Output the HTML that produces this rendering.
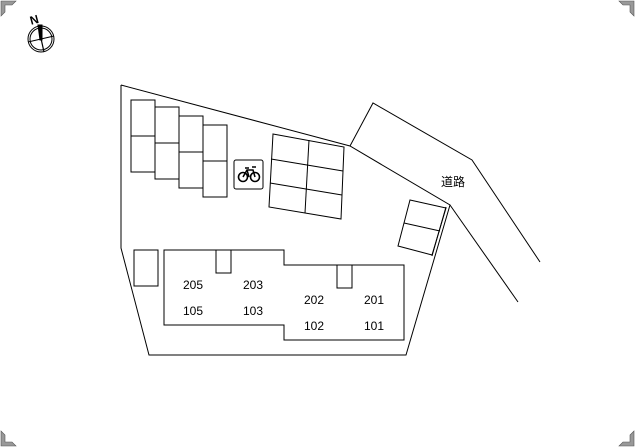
<!DOCTYPE html>
<html><head><meta charset="utf-8"><style>
html,body{margin:0;padding:0;background:#fff;}
svg{display:block;}
text{font-family:"Liberation Sans","Noto Sans CJK JP",sans-serif;font-size:12px;fill:#000;}
</style></head><body>
<svg width="635" height="447" viewBox="0 0 635 447" xmlns="http://www.w3.org/2000/svg">
<g fill="#999" stroke="#555" stroke-width="0.6">
<polygon points="1,1 16,1 12,5 5,5 5,12 1,16"/>
<polygon points="634,1 619,1 623,5 630,5 630,12 634,16"/>
<polygon points="1,446 16,446 12,442 5,442 5,435 1,431"/>
<polygon points="634,446 619,446 623,442 630,442 630,435 634,431"/>
</g>
<g fill="none" stroke="#000" stroke-width="1">
<circle cx="41" cy="39" r="13"/><circle cx="41" cy="39" r="11"/>
<line x1="28" y1="42" x2="54" y2="36"/>
<line x1="38" y1="25" x2="44" y2="52" stroke-width="1.2"/>
<polygon points="38,25 42,25 42,40 40,40" fill="#000"/>
</g>
<text x="30" y="24" font-size="10" font-weight="bold" transform="rotate(-15 34 20)">N</text>
<g fill="none" stroke="#000" stroke-width="1">
<polyline points="121,85 350,146 450,205 406,355 149,355 121,248 121,85"/>
<line x1="446" y1="207" x2="432" y2="256"/>
<polyline points="350,146 373,103 472,160 540,262"/>
<line x1="450" y1="205" x2="518" y2="302"/>
<rect x="131" y="100" width="24" height="36"/><rect x="131" y="136" width="24" height="36"/>
<rect x="155" y="107" width="24" height="36"/><rect x="155" y="143" width="24" height="36"/>
<rect x="179" y="116" width="24" height="36"/><rect x="179" y="152" width="24" height="36"/>
<rect x="203" y="125" width="24" height="36"/><rect x="203" y="161" width="24" height="36"/>
<polygon points="273,134 344,147 341,219 269,207"/>
<line x1="271" y1="159" x2="343" y2="171"/>
<line x1="270" y1="183" x2="342" y2="195"/>
<line x1="309" y1="140" x2="305" y2="213"/>
<polygon points="410,200 446,208 432,255 398,246"/>
<line x1="404" y1="223" x2="440" y2="231"/>
<rect x="134" y="250" width="24" height="36"/>
<polygon points="164,250 284,250 284,265 404,265 404,340 284,340 284,325 164,325"/>
<rect x="216" y="250" width="15" height="23"/>
<rect x="337" y="265" width="15" height="23"/>
<rect x="234" y="160" width="29" height="29" rx="2"/>
<circle cx="243" cy="177" r="4.5" stroke-width="1.6"/>
<circle cx="255" cy="177" r="4.5" stroke-width="1.6"/>
<polyline points="243,177 247,170 253,170 255,177" stroke-width="1.5"/>
<line x1="247" y1="170" x2="249" y2="177" stroke-width="1.5"/>
<line x1="245" y1="168" x2="249" y2="168" stroke-width="1.5"/>
<line x1="252" y1="167" x2="256" y2="167" stroke-width="1.5"/>
</g>
<text x="441" y="186">道路</text>
<text x="183" y="289">205</text><text x="243" y="289">203</text>
<text x="183" y="315">105</text><text x="243" y="315">103</text>
<text x="304" y="304">202</text><text x="364" y="304">201</text>
<text x="304" y="330">102</text><text x="364" y="330">101</text>
</svg>
</body></html>
